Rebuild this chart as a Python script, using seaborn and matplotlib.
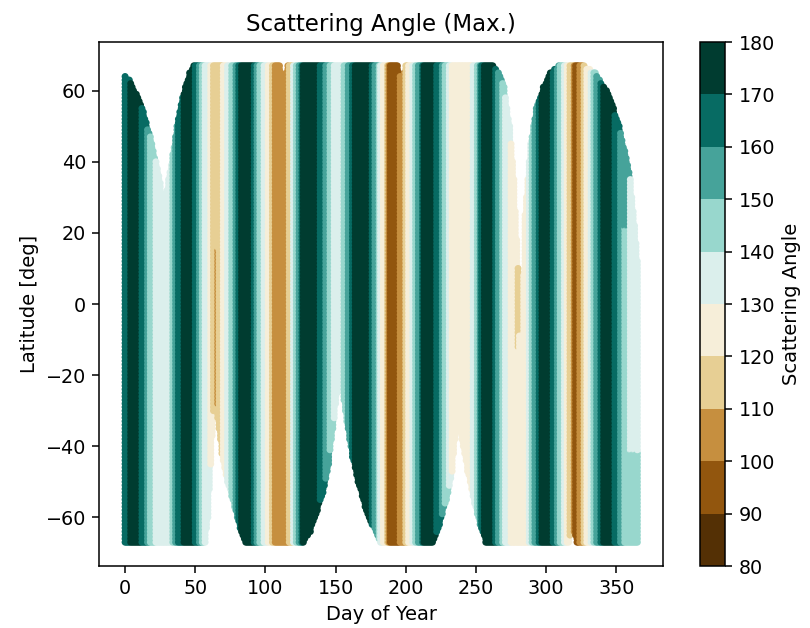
import numpy as np
import pandas as pd
import matplotlib
matplotlib.use("Agg")
import matplotlib.pyplot as plt
import seaborn as sns
from matplotlib.colors import Normalize
from matplotlib.cm import ScalarMappable

# ---------------- data ----------------
# vertical colour bands: first day of each band and its 10-degree class (lower edge)
stripe_start = [0, 1, 9.5, 13, 15.5, 19, 31, 33, 35.5, 39, 47.5, 50, 52, 54.5, 58, 60.5,
                67.5, 70, 73.5, 76, 78.5, 80.5, 89, 91.5, 93.5, 96, 99.5, 102, 104.5, 114,
                117.5, 119, 121, 123, 124.5, 136.5, 140, 143.5, 146, 153, 156.5, 159, 161.5,
                173.5, 175.5, 178, 179.5, 181.5, 184, 185, 186.5, 193.5, 197, 199.5, 202, 204,
                206.5, 209, 210, 219.5, 223, 225.5, 228, 230.5, 245.5, 248, 250, 251.5, 253,
                261, 263.5, 266, 268.5, 272, 281.5, 285, 287.5, 289.5, 292, 294.5, 302.5,
                305, 307.5, 310, 312, 314.5, 317, 318, 321.5, 324, 326.5, 329, 331, 333.5, 336,
                338, 346.5, 350, 353, 357]
stripe_level = [160, 170, 160, 150, 140, 130, 140, 150, 160, 170, 160, 150, 140, 130, 120, 110,
                120, 130, 140, 150, 160, 170, 160, 150, 140, 130, 120, 110, 100, 110,
                130, 140, 150, 160, 170, 160, 150, 140, 130, 140, 150, 160, 170,
                160, 150, 140, 130, 120, 110, 100, 90, 100, 110, 120, 130, 140,
                150, 160, 170, 160, 150, 140, 130, 120, 130, 140, 150, 160, 170,
                160, 150, 140, 130, 120, 120, 130, 140, 150, 160, 170, 160,
                150, 140, 130, 120, 110, 100, 90, 100, 110, 120, 130, 140, 150, 160,
                170, 160, 150, 140, 130]

# local patches where the band colour differs from the column colour
patch_day0 = [63, 277, 346.5, 350, 353]
patch_day1 = [64.5, 278.5, 351, 357, 367]
patch_lat0 = [-28, -12, 30, 22, -67]
patch_lat1 = [15, 22, 67, 50, -42]
patch_level = [100, 110, 160, 150, 140]

# upper and lower edge of the observed latitude band
top_day = [0, 3, 8, 13, 18, 22, 25, 27.5, 30.5, 33.5, 37, 41.5, 46, 49, 110, 113, 116, 194,
           197, 200, 262, 266, 270, 274, 277, 280, 282, 283.5, 285, 289, 293, 298, 303, 309,
           327, 335, 343, 348, 352, 356, 360, 363, 365]
top_lat = [64, 63, 59, 54, 47, 40, 34, 27, 34, 41, 50, 59, 65, 67, 67, 63, 67, 67,
           63, 67, 67, 65, 61, 50, 35, 10, -28, 0, 25, 45, 55, 61, 65, 67,
           67, 65, 60, 55, 50, 43, 35, 22, 12]
bot_day = [0, 57, 59, 61, 62.5, 64, 66, 69, 73, 78, 82, 86, 127, 132, 137, 141, 145, 149,
           151, 153, 155, 158, 162, 166, 171, 176, 182, 219, 224, 229, 233, 235, 237, 240,
           244, 249, 253, 257, 316, 319, 322, 365]
bot_lat = [-67, -67, -60, -45, -33, -25, -32, -42, -50, -57, -63, -67, -67, -64, -58, -53, -45, -32,
           -25, -20, -24, -33, -43, -50, -57, -62, -67, -67, -62, -55, -47, -38, -32, -38,
           -47, -56, -62, -67, -67, -63, -67, -67]

day_grid = np.arange(0, 366, 1.0)
lat_grid = np.arange(-67, 67.01, 1.0)
cbar_ticks = [80, 90, 100, 110, 120, 130, 140, 150, 160, 170, 180]

# ---------------- build the sampled grid ----------------
marker_shift_days = 2.5  # compensates marker overlap when drawn in day order
D, L = np.meshgrid(day_grid, lat_grid, indexing="ij")
top = np.interp(D, top_day, top_lat)
bot = np.interp(D, bot_day, bot_lat)
inside = (L <= top) & (L >= bot)
Dv = D - marker_shift_days
idx = np.searchsorted(stripe_start, Dv, side="right") - 1
idx = np.clip(idx, 0, len(stripe_level) - 1)
level = np.asarray(stripe_level, dtype=float)[idx]
for d0, d1, l0, l1, lv in zip(patch_day0, patch_day1, patch_lat0, patch_lat1, patch_level):
    sel = (Dv >= d0) & (Dv < d1) & (L >= l0) & (L <= l1)
    level[sel] = lv
angle = level + 5.0
df = pd.DataFrame({"day": D[inside], "lat": L[inside], "angle": angle[inside]})

# ---------------- style ----------------
sns.set_style("ticks")
plt.rcParams.update({
    "font.family": ["DejaVu Sans"],
    "font.size": 13.8,
    "axes.titlesize": 16.5,
    "axes.titlepad": 8,
    "axes.labelsize": 14,
    "axes.labelpad": 5,
    "xtick.labelsize": 13.8,
    "ytick.labelsize": 13.8,
    "axes.edgecolor": "black",
    "axes.labelcolor": "black",
    "text.color": "black",
    "xtick.color": "black",
    "ytick.color": "black",
    "xtick.major.size": 5.2,
    "ytick.major.size": 5.2,
    "xtick.major.width": 1.1,
    "ytick.major.width": 1.1,
    "xtick.major.pad": 4.5,
    "ytick.major.pad": 4.5,
    "axes.linewidth": 1.1,
})

cmap = matplotlib.colormaps["BrBG"].resampled(10)
norm = Normalize(vmin=80, vmax=180)

fig = plt.figure(figsize=(8.1, 6.28), dpi=100)
ax = fig.add_axes([0.1228, 0.0987, 0.6957, 0.8344])
cax = fig.add_axes([0.8642, 0.0987, 0.0309, 0.8344])

sns.scatterplot(data=df, x="day", y="lat", hue="angle", palette=cmap, hue_norm=norm,
                s=25, linewidth=0, edgecolor="none", legend=False, ax=ax)

ax.set_xlim(-18.25, 383.25)
ax.set_ylim(-73.7, 73.7)
ax.set_xticks([0, 50, 100, 150, 200, 250, 300, 350])
ax.set_yticks([-60, -40, -20, 0, 20, 40, 60])
ax.set_xlabel("Day of Year")
ax.set_ylabel("Latitude [deg]")
ax.set_title("Scattering Angle (Max.)")

cb = fig.colorbar(ScalarMappable(norm=norm, cmap=cmap), cax=cax, ticks=cbar_ticks)
cb.set_label("Scattering Angle", fontsize=14)
cb.outline.set_edgecolor("black")
cb.outline.set_linewidth(1.1)
cax.tick_params(labelsize=13.8, length=5.2, width=1.1, pad=4.5)

fig.savefig("out.png", dpi=100)
